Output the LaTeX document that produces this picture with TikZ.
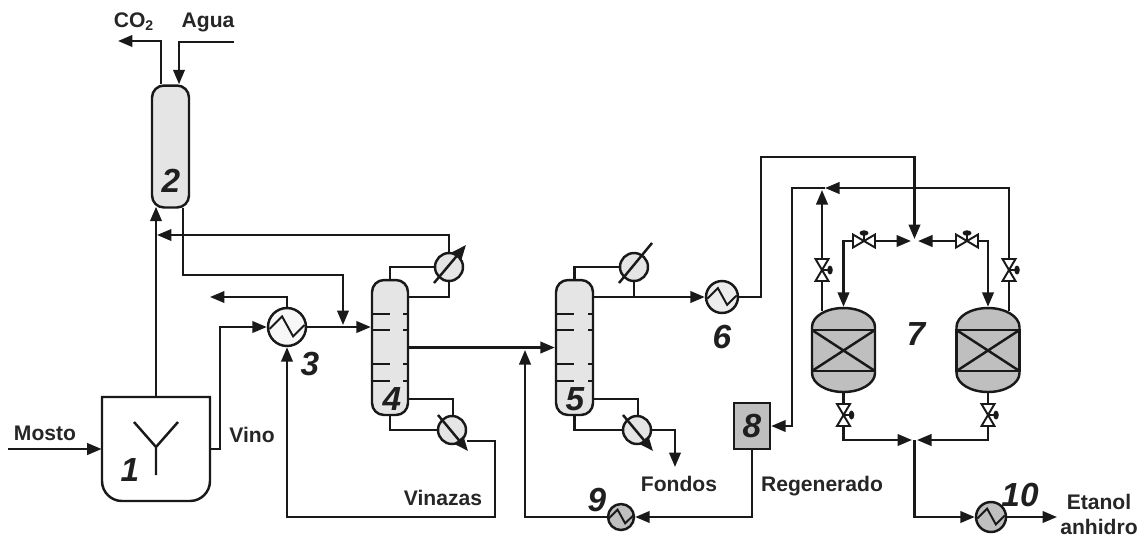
\documentclass[tikz,border=0pt]{standalone}
\usepackage{fontspec}
\setmainfont{Liberation Sans}
\usetikzlibrary{arrows.meta, calc}
\tikzset{
  x=0.02cm, y=-0.02cm,
  pipe/.style={line width=1.4pt, draw=black!90},
  arr/.style={pipe, -{Triangle[length=2.9mm, width=2.3mm]}},
  arrs/.style={pipe, {Triangle[length=2.9mm, width=2.3mm]}-{Triangle[length=2.9mm, width=2.3mm]}},
  column/.style={pipe, fill=gray!20, rounded corners=0.24cm, inner sep=0pt, minimum width=#1},
  cooler/.style={pipe, circle, fill=gray!20, inner sep=0pt, minimum size=0.56cm},
  hx/.style 2 args={pipe, circle, fill=#1, inner sep=0pt, minimum size=2*#2,
    path picture={\draw[pipe, line width=1.1pt, shift={(path picture bounding box.center)}, x=#2, y=#2]
      (-0.92,-0.1) -- (-0.26,0.56) -- (0.32,-0.49) -- (0.92,0.1);}},
  bed/.style={pipe, inner sep=0pt, minimum width=1.26cm, minimum height=0.82cm,
    path picture={\draw[pipe] (path picture bounding box.north west) -- (path picture bounding box.south east)
      (path picture bounding box.south west) -- (path picture bounding box.north east);}},
  lbl/.style={inner sep=0pt, text=black!85, font=\fontsize{12}{12}\selectfont\bfseries},
  num/.style={inner sep=0pt, text=black!88, font=\fontsize{19}{19}\selectfont\bfseries\itshape},
  valve/.pic={
    \draw[line width=1.1pt, draw=black!90, fill=white] (-11,-6.5) -- (0,0) -- (-11,6.5) -- cycle (11,-6.5) -- (0,0) -- (11,6.5) -- cycle;
    \draw[line width=1.1pt, draw=black!90] (0,0) -- (0,-7);
    \fill[black!90] (0,-8) ellipse [x radius=0.09cm, y radius=0.055cm];
  },
}
\begin{document}
\begin{tikzpicture}
  \useasboundingbox (0,0) rectangle (1146,539);
  % vessels
  \node[column=0.74cm, minimum height=2.44cm] (col2) at (170.5,146.5) {};
  \node[column=0.72cm, minimum height=2.7cm] (col4) at (390,347.5) {};
  \node[column=0.74cm, minimum height=2.7cm] (col5) at (574.5,347.5) {};
  \node[inner sep=0pt, minimum width=2.16cm, minimum height=2.08cm] (tank) at (156,449) {};
  \draw[pipe] (102,397) -- (210,397) -- (210,481) arc[start angle=0, end angle=-90, radius=0.4cm]
    -- (122,501) arc[start angle=-90, end angle=-180, radius=0.4cm] -- cycle;
  \draw[pipe] (156,475) -- (156,447) -- (134,422) (156,447) -- (178,422);
  \foreach \c/\w in {col4/19, col5/19}
    \foreach \t in {314,330,364,381} {
      \draw[pipe] (\c.west |- 0,\t) -- ++(\w,0);
      \draw[pipe] (\c.east |- 0,\t) -- ++(-6,0);
    }
  \foreach \n/\cx in {ra/843.5, rb/988} {
    \draw[pipe, fill=gray!50] ({\cx-31.5},327) arc[start angle=180, end angle=0, x radius=0.63cm, y radius=0.38cm]
      -- ({\cx+31.5},373) arc[start angle=0, end angle=-180, x radius=0.63cm, y radius=0.38cm] -- cycle;
    \node[bed] (\n) at (\cx,350.5) {};
  }
  \node[pipe, fill=gray!50, inner sep=0pt, minimum width=0.72cm, minimum height=0.92cm, num] (box8) at (752,426) {8};
  % heat exchangers
  \node[hx={gray!6}{0.38cm}] (ex3) at (287,327) {};
  \node[hx={gray!15}{0.32cm}] (ex6) at (722,297) {};
  \node[hx={gray!50}{0.26cm}] (ex9) at (621,517) {};
  \node[hx={gray!50}{0.30cm}] (ex10) at (991,517) {};
  \node[cooler] (cond4) at (449,267) {};
  \node[cooler] (cond5) at (634,267) {};
  \node[cooler] (reb4) at (452,430) {};
  \node[cooler] (reb5) at (637,430) {};
  % free ends and bends
  \coordinate (co2out) at (118,41);
  \coordinate (aguain) at (234,42);
  \coordinate (mostoin) at (8,449);
  \coordinate (j2) at (157,235);
  \coordinate (j3) at (343,275);
  \coordinate (j4) at (343,325);
  \coordinate (gasout) at (210,297);
  \coordinate (vino) at (220,449);
  \coordinate (vinaza) at (495,441);
  \coordinate (low) at (287,517);
  \coordinate (fondos) at (675,467);
  \coordinate (mix) at (525,350);
  \coordinate (mixlow) at (525,517);
  \coordinate (ex6up) at (761,157);
  \coordinate (jtop) at (914.5,239);
  \coordinate (jleft) at (911,241);
  \coordinate (jright) at (918,241);
  \coordinate (jlow) at (914.5,440);
  \coordinate (retA) at (825,188);
  \coordinate (retB) at (792,188);
  \coordinate (retC) at (822,190);
  \coordinate (eout) at (1057,517);
  % streams round columns 2 and 4
  \draw[arr] ($(col2.north)+(-9.5,0)$) |- (co2out);
  \draw[arr] (aguain) -| ($(col2.north)+(8.5,0)$);
  \draw[arr] (tank.north) -- ($(col2.south)+(-14.5,-2)$);
  \draw[arr] (mostoin) -- (tank.west);
  \draw[arr] (tank.east) -- (vino) |- (ex3.west);
  \draw[arr] (ex3.north) |- (gasout);
  \draw[arr] (ex3.east) -- (col4.west |- ex3);
  \draw[arr] ($(col2.south)+(12.5,-1)$) |- (j3) -- (j4);
  \draw[arr] (cond4.north) |- (j2);
  \draw[pipe] (cond4.west) -| (col4.north);
  \draw[pipe] (cond4.south) |- (col4.east |- 0,297);
  \draw[pipe] (col4.east |- 0,399) -| (453,416);
  \draw[pipe] (col4.south) |- (reb4.west);
  \draw[arr] (reb4.east |- vinaza) ++(-0.5,0) -- (vinaza) |- (low) -- (ex3.south);
  \draw[arr] ($(cond4)+(-15,16)$) -- ($(cond4)+(17,-22)$);
  \draw[arr] ($(reb4)+(-14,-15)$) -- ($(reb4)+(16,21)$);
  % column 5
  \draw[arr] (col4.east) -- (col5.west);
  \draw[arr] (ex9.west) -- (mixlow) -- (mix);
  \draw[pipe] (cond5.west) -| (col5.north);
  \draw[pipe] (cond5.south) -- (cond5.south |- ex6);
  \draw[arr] (col5.east |- ex6) -- (ex6.west);
  \draw[pipe] ($(cond5)+(-15,16)$) -- ($(cond5)+(18,-24)$);
  \draw[pipe] (col5.east |- 0,399) -| (638,416);
  \draw[pipe] (col5.south) |- (reb5.west);
  \draw[arr] (reb5.east) -| (fondos);
  \draw[arr] ($(reb5)+(-14,-15)$) -- ($(reb5)+(16,21)$);
  % adsorption beds
  \draw[arr] (ex6.east) -| (ex6up) -| (jtop);
  \draw[arrs] (jleft) -| ($(ra.north)+(0,-22)$);
  \draw[arrs] (jright) -| ($(rb.north)+(0,-22)$);
  \draw[arr] ($(rb.north)+(21,-18)$) |- (retA);
  \draw[arr] ($(ra.north)+(-21.5,-18)$) -- (retC);
  \draw[arr] (retA) -- (retB) |- (box8.east);
  \draw[arr] ($(ra.south)+(0,21)$) |- (jlow -| 912,0);
  \draw[arr] ($(rb.south)+(0,21)$) |- (jlow -| 917,0);
  \draw[arr] (jlow) |- (ex10.west);
  \draw[arr] (ex10.east) -- (eout);
  \draw[arr] (box8.south) |- (ex9.east);
  % valves
  \pic at (864,241) {valve};
  \pic at (967,241) {valve};
  \pic[rotate=-90] at (822,270) {valve};
  \pic[rotate=-90] at (1009,270) {valve};
  \pic[rotate=-90] at (843.5,415) {valve};
  \pic[rotate=-90] at (988,415) {valve};
  % labels
  \node[lbl] (lco2) at (134,22) {CO\textsubscript{2}};
  \node[lbl] (lagua) at (208,22) {Agua};
  \node[lbl] (lmosto) at (45,433) {Mosto};
  \node[lbl] (lvino) at (252,435) {Vino};
  \node[lbl] (lvinazas) at (443,498) {Vinazas};
  \node[lbl] (lfondos) at (679,484) {Fondos};
  \node[lbl] (lregen) at (822,486) {Regenerado};
  \node[lbl] (letanol) at (1099,502) {Etanol};
  \node[lbl] (lanhidro) at (1099,527) {anhidro};
  \node[num] (n1) at (130,470) {1};
  \node[num] (n2) at (171,181) {2};
  \node[num] (n3) at (310,364) {3};
  \node[num] (n4) at (392,399) {4};
  \node[num] (n5) at (575,399) {5};
  \node[num] (n6) at (722,337) {6};
  \node[num] (n7) at (916,334) {7};
  \node[num] (n9) at (597,500) {9};
  \node[num] (n10) at (1020,495) {10};
\end{tikzpicture}
\end{document}
